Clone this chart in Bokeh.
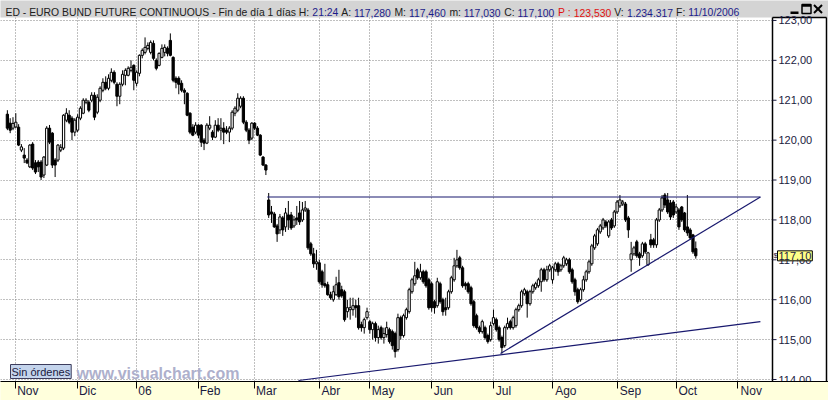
from bokeh.plotting import figure
from bokeh.models import FixedTicker, Label, ColumnDataSource, Grid
from bokeh.core.properties import value
from bokeh.embed import file_html
from bokeh.resources import INLINE

# ---- daily candles (trading-day index 0 = 27/10/2005 ... 245 = 11/10/2006) ----
opens = [120.65, 120.425, 120.30, 120.33, 120.325, 119.75, 119.625, 119.50, 119.33, 119.90,
         119.43, 119.45, 119.45, 119.125, 119.375, 120.30, 120.175, 119.50, 119.50, 119.75,
         119.80, 120.50, 120.625, 120.55, 120.20, 120.25, 120.55, 120.675, 120.95, 120.95,
         121.00, 121.125, 120.70, 121.00, 121.25, 121.45, 121.30, 121.50, 121.70, 121.40,
         121.10, 121.40, 121.625, 121.625, 121.75, 121.875, 121.425, 121.675, 122.125, 122.20,
         122.30, 122.20, 122.425, 122.00, 121.875, 122.075, 122.20, 122.30, 122.50, 122.075,
         121.55, 121.55, 121.425, 121.25, 121.175, 120.675, 120.325, 120.20, 120.375, 120.375,
         120.00, 119.925, 120.30, 120.20, 120.075, 120.375, 120.25, 120.30, 120.25, 120.20,
         120.30, 120.675, 120.75, 120.85, 121.05, 120.45, 120.25, 120.05, 120.425, 120.30,
         120.125, 119.575, 119.375, 118.50, 118.20, 118.15, 117.85, 117.75, 118.05, 117.825,
         118.125, 118.125, 117.85, 118.05, 118.175, 118.00, 118.25, 118.25, 117.40, 117.15,
         116.90, 116.925, 116.70, 116.40, 116.375, 116.125, 116.00, 116.125, 116.425, 116.25,
         116.20, 115.70, 115.75, 115.75, 115.85, 115.85, 115.375, 115.30, 115.55, 115.45,
         115.25, 115.40, 115.05, 115.30, 115.05, 115.125, 115.25, 115.20, 115.15, 114.75,
         115.55, 115.10, 115.55, 115.70, 116.20, 116.40, 116.75, 116.55, 116.70, 116.70,
         116.50, 116.40, 115.95, 115.85, 116.40, 116.00, 115.80, 115.80, 116.20, 116.50,
         116.85, 117.05, 116.80, 116.40, 116.40, 116.30, 115.95, 115.60, 115.30, 115.20,
         115.30, 115.10, 115.00, 115.40, 115.50, 115.30, 115.05, 114.85, 115.30, 115.45,
         115.30, 115.35, 115.75, 115.85, 116.15, 116.20, 115.90, 116.20, 116.30, 116.35,
         116.45, 116.75, 116.50, 116.75, 116.50, 116.75, 116.90, 116.75, 116.85, 116.90,
         117.00, 116.75, 116.50, 116.25, 116.00, 116.25, 116.50, 116.70, 116.90, 117.30,
         117.40, 117.70, 117.80, 117.95, 117.60, 118.00, 117.85, 118.20, 118.35, 118.40,
         118.40, 118.05, 117.00, 117.15, 117.45, 117.15, 117.10, 117.40, 116.875, 117.50,
         117.50, 117.375, 118.00, 118.25, 118.625, 118.50, 118.425, 118.45, 118.20, 118.25,
         118.325, 118.175, 117.825, 117.75, 117.625, 117.28]
highs = [120.75, 120.55, 120.575, 120.675, 120.40, 119.90, 119.80, 119.55, 119.90, 119.95,
         119.50, 119.50, 119.50, 119.60, 120.35, 120.38, 120.20, 119.55, 119.90, 119.90,
         120.65, 120.80, 120.75, 120.60, 120.55, 120.65, 120.85, 121.05, 121.05, 121.00,
         121.20, 121.20, 121.15, 121.35, 121.55, 121.60, 121.65, 121.80, 121.75, 121.45,
         121.45, 121.75, 121.80, 121.85, 122.00, 121.90, 121.75, 122.15, 122.30, 122.575,
         122.45, 122.50, 122.50, 122.05, 122.20, 122.40, 122.40, 122.35, 122.675, 122.10,
         121.60, 121.60, 121.50, 121.30, 121.20, 120.70, 120.40, 120.45, 120.40, 120.40,
         120.05, 120.425, 120.60, 120.25, 120.50, 120.55, 120.55, 120.45, 120.35, 120.35,
         120.75, 120.85, 121.175, 121.10, 121.10, 120.50, 120.30, 120.45, 120.45, 120.35,
         120.15, 119.60, 119.40, 118.675, 118.35, 118.20, 117.90, 118.15, 118.10, 118.30,
         118.475, 118.20, 118.10, 118.35, 118.475, 118.45, 118.475, 118.30, 117.45, 117.30,
         117.25, 117.00, 116.75, 116.90, 116.45, 116.20, 116.35, 116.575, 116.75, 116.35,
         116.25, 116.00, 116.05, 116.05, 116.00, 116.05, 115.45, 115.55, 115.80, 115.50,
         115.45, 115.45, 115.35, 115.35, 115.30, 115.45, 115.30, 115.25, 115.20, 115.65,
         115.60, 115.65, 115.80, 116.30, 116.55, 116.95, 116.80, 116.90, 116.75, 116.75,
         116.55, 116.45, 116.00, 116.55, 116.45, 116.05, 116.05, 116.25, 116.60, 117.05,
         117.25, 117.10, 116.85, 116.45, 116.45, 116.35, 116.00, 115.65, 115.35, 115.50,
         115.35, 115.15, 115.45, 115.75, 115.55, 115.35, 115.10, 115.35, 115.55, 115.50,
         115.60, 115.80, 115.90, 116.25, 116.30, 116.25, 116.25, 116.40, 116.45, 116.55,
         116.80, 116.80, 116.85, 116.90, 116.85, 116.95, 116.95, 116.90, 117.10, 117.05,
         117.05, 116.80, 116.55, 116.30, 116.30, 116.60, 116.75, 117.00, 117.40, 117.65,
         117.80, 117.90, 118.05, 118.00, 118.00, 118.05, 118.25, 118.50, 118.625, 118.50,
         118.45, 118.10, 117.45, 117.35, 117.50, 117.20, 117.45, 117.45, 117.20, 117.65,
         117.55, 118.05, 118.30, 118.625, 118.675, 118.675, 118.50, 118.50, 118.40, 118.30,
         118.35, 118.20, 118.625, 117.80, 117.65, 117.46]
lows = [120.25, 120.175, 120.25, 120.30, 119.85, 119.70, 119.425, 119.40, 119.30, 119.25,
        119.15, 119.20, 119.00, 119.05, 119.35, 119.90, 119.30, 119.075, 119.45, 119.70,
        119.75, 120.45, 120.40, 120.00, 120.10, 120.20, 120.50, 120.65, 120.90, 120.70,
        120.95, 120.50, 120.65, 120.95, 121.20, 121.25, 121.25, 121.45, 121.40, 120.85,
        120.90, 121.35, 121.375, 121.60, 121.70, 121.25, 121.35, 121.60, 122.05, 122.15,
        122.25, 122.15, 122.00, 121.75, 121.85, 122.05, 122.10, 122.10, 122.10, 121.45,
        121.30, 121.15, 121.20, 120.90, 120.60, 120.15, 120.10, 120.15, 120.05, 119.83,
        119.75, 119.90, 120.25, 120.00, 120.05, 120.20, 120.00, 119.90, 120.15, 119.95,
        120.25, 120.60, 120.70, 120.80, 120.40, 120.20, 119.90, 120.00, 120.25, 120.10,
        119.60, 119.35, 119.125, 118.05, 117.925, 117.80, 117.45, 117.65, 117.60, 117.70,
        117.75, 117.75, 117.80, 117.875, 117.875, 117.95, 118.20, 117.25, 117.10, 116.80,
        116.75, 116.40, 116.30, 116.30, 116.10, 116.00, 115.95, 116.10, 116.00, 116.05,
        115.45, 115.55, 115.50, 115.60, 115.55, 115.25, 115.20, 115.15, 115.50, 115.15,
        115.00, 114.95, 114.90, 115.00, 114.90, 115.05, 114.90, 114.75, 114.55, 114.70,
        115.00, 115.05, 115.50, 115.65, 116.15, 116.35, 116.50, 116.50, 116.40, 116.30,
        115.75, 115.70, 115.65, 115.80, 115.90, 115.60, 115.60, 115.75, 116.15, 116.45,
        116.80, 116.75, 116.30, 116.25, 116.15, 115.85, 115.30, 115.25, 115.15, 115.15,
        115.00, 114.90, 114.95, 115.35, 115.20, 114.95, 114.65, 114.80, 115.25, 115.25,
        115.25, 115.30, 115.70, 115.80, 116.10, 115.55, 115.85, 116.15, 116.25, 116.30,
        116.20, 116.45, 116.45, 116.70, 116.40, 116.70, 116.60, 116.70, 116.80, 116.85,
        116.65, 116.40, 116.10, 115.90, 115.95, 116.20, 116.45, 116.65, 116.85, 117.25,
        117.35, 117.65, 117.75, 117.80, 117.55, 117.75, 117.80, 118.15, 118.30, 118.35,
        117.95, 117.55, 116.70, 117.10, 117.05, 116.85, 117.05, 117.15, 116.85, 117.30,
        117.30, 117.30, 117.95, 118.20, 118.30, 118.15, 118.00, 118.05, 118.15, 117.75,
        117.95, 117.70, 117.60, 117.50, 117.15, 117.03]
closes = [120.30, 120.25, 120.42, 120.45, 119.875, 119.83, 119.55, 119.43, 119.875, 119.30,
          119.20, 119.33, 119.075, 119.575, 120.30, 119.95, 119.375, 119.375, 119.875, 119.82,
          120.625, 120.675, 120.45, 120.20, 120.50, 120.575, 120.80, 121.00, 121.00, 120.75,
          121.125, 120.575, 121.075, 121.30, 121.45, 121.30, 121.55, 121.70, 121.45, 121.10,
          121.40, 121.65, 121.75, 121.80, 121.825, 121.50, 121.70, 122.125, 122.25, 122.325,
          122.375, 122.45, 122.05, 121.80, 122.175, 122.30, 122.325, 122.175, 122.125, 121.50,
          121.45, 121.40, 121.25, 121.20, 120.625, 120.20, 120.125, 120.375, 120.125, 119.95,
          119.925, 120.375, 120.375, 120.075, 120.375, 120.25, 120.30, 120.20, 120.20, 120.30,
          120.70, 120.80, 121.05, 121.05, 120.45, 120.25, 120.00, 120.425, 120.30, 120.125,
          119.625, 119.375, 119.25, 118.125, 118.15, 117.825, 117.65, 118.075, 117.75, 118.175,
          118.00, 117.80, 118.00, 118.00, 117.95, 118.25, 118.30, 117.30, 117.15, 116.90,
          116.95, 116.45, 116.375, 116.35, 116.125, 116.05, 116.20, 116.375, 116.075, 116.10,
          115.50, 115.80, 115.80, 115.85, 115.80, 115.30, 115.30, 115.50, 115.70, 115.25,
          115.40, 115.05, 115.25, 115.05, 115.15, 115.30, 114.95, 114.85, 114.70, 115.55,
          115.10, 115.60, 115.75, 116.25, 116.50, 116.60, 116.55, 116.70, 116.45, 116.35,
          115.80, 115.80, 115.80, 116.45, 115.95, 115.70, 115.75, 116.20, 116.55, 116.85,
          117.00, 116.80, 116.35, 116.35, 116.20, 115.90, 115.35, 115.30, 115.20, 115.45,
          115.05, 114.95, 115.35, 115.55, 115.25, 115.00, 114.80, 115.30, 115.40, 115.30,
          115.55, 115.75, 115.85, 116.20, 116.25, 115.90, 116.20, 116.35, 116.40, 116.50,
          116.75, 116.50, 116.75, 116.85, 116.80, 116.90, 116.70, 116.85, 117.05, 117.00,
          116.70, 116.45, 116.20, 115.95, 116.25, 116.50, 116.70, 116.95, 117.35, 117.60,
          117.75, 117.85, 118.00, 117.85, 117.95, 117.80, 118.20, 118.45, 118.50, 118.45,
          118.00, 117.75, 117.15, 117.30, 117.10, 117.05, 117.40, 117.20, 117.175, 117.375,
          117.375, 118.00, 118.25, 118.55, 118.375, 118.20, 118.075, 118.125, 118.325, 117.825,
          118.00, 117.75, 117.675, 117.55, 117.20, 117.10]

# ---- axes ----
month_labels = ["Nov", "Dic", "06", "Feb", "Mar", "Abr", "May", "Jun", "Jul", "Ago", "Sep", "Oct", "Nov"]
month_index = [3, 25, 46, 68, 88, 111, 129, 151, 173, 194, 217, 238, 260]
price_ticks = [114, 115, 116, 117, 118, 119, 120, 121, 122, 123]
price_tick_labels = ["114,00", "115,00", "116,00", "117,00", "118,00", "119,00",
                     "120,00", "121,00", "122,00", "123,00"]

# ---- drawn trend lines (day index, price) ----
trend_x0 = [92.5, 175.5, 103.6]
trend_y0 = [118.575, 114.65, 113.975]
trend_x1 = [268.0, 268.0, 268.0]
trend_y1 = [118.575, 118.575, 115.45]

# ---- header info ----
last_time = "21:24"
prev_close = "123,530"
volume = "1.234.317"
last_date = "11/10/2006"


def fmt3(v):
    return f"{v:.3f}".replace(".", ",")


# ---- layout constants ----
W, H = 828, 400
BOTTOM = 18                 # date band
TITLE_H = 17                # header bar
CHART_W = 772               # chart area width (px), price scale to its right
FH = H - BOTTOM             # frame height
CHART_H = FH - TITLE_H
X_MIN, X_AXIS = -2.445, 272.3
Y_LO, Y_TOP = 113.95, 123.075
PPX = CHART_W / (X_AXIS - X_MIN)
PPY = CHART_H / (Y_TOP - Y_LO)
X_MAX = X_MIN + W / PPX
Y_MAX = Y_TOP + TITLE_H / PPY

FONT = "Liberation Sans"
BAR_GRAY = "#d4d4d4"
BAND = "#ffffdc"
INK = "#1a1a40"
NAVY = "#18186e"

ARIAL = {' ': 278, '\u00a0': 278, '-': 333, ':': 278, ',': 278, '.': 278, '/': 278,
         'A': 667, 'B': 667, 'C': 722, 'D': 722, 'E': 667, 'F': 611, 'H': 722, 'I': 278,
         'J': 500, 'M': 833, 'N': 722, 'O': 778, 'P': 667, 'R': 722, 'S': 667, 'T': 611,
         'U': 722, 'V': 667, 'a': 556, 'b': 556, 'c': 500, 'd': 556, 'e': 556, 'g': 556,
         'i': 222, 'í': 278, 'l': 222, 'm': 833, 'n': 556, 'o': 556, 'p': 556, 'r': 333,
         's': 500, 't': 278, 'u': 556, 'v': 500, 'y': 500}


def tw(s, size):
    return sum(ARIAL.get(ch, 556) for ch in s) * size / 1000.0


def px_to_x(px):
    return X_MIN + px / PPX


def py_to_y(py):
    return Y_MAX - py / PPY


p = figure(width=W, height=H, x_range=(X_MIN, X_MAX), y_range=(Y_LO, Y_MAX),
           output_backend="svg", toolbar_location=None, title=None,
           y_axis_location=None, min_border_left=0, min_border_right=0,
           min_border_top=0, min_border_bottom=BOTTOM,
           background_fill_color="white", border_fill_color=BAND)
p.outline_line_color = None
for g in p.grid:
    g.visible = False

# date axis: ticks at month starts, labels set just right of each tick
xa = p.xaxis[0]
xa.ticker = FixedTicker(ticks=month_index)
LAB_PX = 12
NB = 278 * LAB_PX / 1000.0  # width of a no-break space
overrides = {}
for t, lab in zip(month_index, month_labels):
    w = tw(lab, LAB_PX)
    n = max(0, round((w + 4) / NB))
    tick_px = (t - X_MIN) * PPX
    if tick_px - (n * NB + w) / 2 < 0:      # label would be pushed inside the canvas
        n = max(0, round((tick_px + 2) / NB))
    overrides[t] = "\u00a0" * n + lab
xa.major_label_overrides = overrides
xa.axis_line_color = "black"
xa.major_tick_in = 0
xa.major_tick_out = 7
xa.major_tick_line_color = "black"
xa.minor_tick_line_color = None
xa.major_label_standoff = -5
xa.major_label_text_font = FONT
xa.major_label_text_font_size = f"{LAB_PX}px"
xa.major_label_text_color = INK
if hasattr(xa, "background_fill_color"):
    xa.background_fill_color = BAND

p.add_layout(Grid(dimension=0, ticker=FixedTicker(ticks=month_index),
                  grid_line_color="#808080", grid_line_dash="1 2", grid_line_width=1))
p.add_layout(Grid(dimension=1, ticker=FixedTicker(ticks=price_ticks),
                  grid_line_color="#808080", grid_line_dash="1 2", grid_line_width=1))

# price-scale panel and header bar (cover the grid there)
p.quad(left=[X_AXIS], right=[X_MAX + 1], bottom=[Y_LO - 1], top=[Y_TOP],
       fill_color="white", line_color=None)
p.quad(left=[X_MIN - 1], right=[X_MAX + 1], bottom=[Y_TOP], top=[Y_MAX + 1],
       fill_color=BAR_GRAY, line_color=None)

# candles
idx = list(range(len(closes)))
src = ColumnDataSource(dict(
    x=idx, o=opens, h=highs, l=lows, c=closes,
    top=[max(o, c) for o, c in zip(opens, closes)],
    bot=[min(o, c) for o, c in zip(opens, closes)],
    fill=["white" if c >= o else "black" for o, c in zip(opens, closes)],
))
p.segment(x0="x", y0="l", x1="x", y1="h", source=src, line_color="black", line_width=1)
p.vbar(x="x", width=0.8, top="top", bottom="bot", source=src,
       fill_color="fill", line_color="black", line_width=1)

# trend lines
p.segment(x0=trend_x0, y0=trend_y0, x1=trend_x1, y1=trend_y1, line_color=NAVY, line_width=1.2)

# price scale: axis line, frame, ticks, labels
x_edge = X_MAX - 2.0 / PPX
p.segment(x0=[X_AXIS, x_edge, X_AXIS], y0=[Y_LO - 1, Y_LO - 1, Y_TOP],
          x1=[X_AXIS, x_edge, x_edge], y1=[Y_TOP, Y_TOP, Y_TOP],
          line_color="black", line_width=1.5)
p.segment(x0=[X_AXIS] * len(price_ticks), y0=price_ticks,
          x1=[X_AXIS + 4 / PPX] * len(price_ticks), y1=price_ticks,
          line_color=INK, line_width=1)
p.text(x=[X_AXIS] * len(price_ticks), y=price_ticks, text=price_tick_labels, x_offset=6,
       text_font=value(FONT), text_font_size="11px", text_color=INK,
       text_baseline="middle", text_align="left")

# last price marker
p.add_layout(Label(x=X_AXIS, y=closes[-1], x_offset=1, text="$",
                   text_font=FONT, text_font_size="8px", text_color=INK, text_baseline="middle"))
p.add_layout(Label(x=X_AXIS, y=closes[-1], x_offset=5,
                   text=f"{closes[-1]:.2f}".replace(".", ","), text_font=FONT,
                   text_font_size="11px", text_color=INK, text_baseline="middle",
                   background_fill_color="#ffff88", border_line_color="black",
                   border_line_width=1, padding=1))

# header text
TS = 10.4
BLUE = "#1c1c8a"
BLACK = "#202020"
RED = "#e01010"
segments = [
    ("ED - EURO BUND FUTURE CONTINUOUS - Fin de día 1 días H: ", BLACK),
    (last_time, BLUE), (" A: ", BLACK), (fmt3(opens[-1]), BLUE),
    (" M: ", BLACK), (fmt3(highs[-1]), BLUE), (" m: ", BLACK), (fmt3(lows[-1]), BLUE),
    (" C: ", BLACK), (fmt3(closes[-1]), BLUE), (" P : ", RED), (prev_close, RED),
    (" V: ", BLACK), (volume, BLUE), (" F: ", BLACK), (last_date, BLUE),
]
cx = 5.0
ty = FH - 13
for text, col in segments:
    lead = len(text) - len(text.lstrip(" "))
    p.add_layout(Label(x=cx + tw(text[:lead], TS), y=ty, x_units="screen", y_units="screen",
                       text=text.strip(), text_font=FONT, text_font_size=f"{TS}px",
                       text_color=col, text_baseline="alphabetic", text_align="left"))
    cx += tw(text, TS)

# window buttons drawn as small shapes: minimise bar, maximise box, close cross
p.quad(left=[px_to_x(790)], right=[px_to_x(798)], bottom=[py_to_y(13.5)], top=[py_to_y(11)],
       fill_color="black", line_color=None)
p.quad(left=[px_to_x(801.5)], right=[px_to_x(810.5)], bottom=[py_to_y(13)], top=[py_to_y(4)],
       fill_color=None, line_color="black", line_width=1.5)
p.segment(x0=[px_to_x(801.5)], y0=[py_to_y(5)], x1=[px_to_x(810.5)], y1=[py_to_y(5)],
          line_color="black", line_width=2.5)
p.segment(x0=[px_to_x(813.5), px_to_x(813.5)], y0=[py_to_y(4.5), py_to_y(12.5)],
          x1=[px_to_x(821.5), px_to_x(821.5)], y1=[py_to_y(12.5), py_to_y(4.5)],
          line_color="black", line_width=2)

# watermark and order status
p.add_layout(Label(x=76, y=8, x_units="screen", y_units="screen", text="www.visualchart.com",
                   text_font=FONT, text_font_size="16px", text_font_style="bold",
                   text_color="#aeb0cc", text_baseline="alphabetic"))
p.add_layout(Label(x=10, y=10, x_units="screen", y_units="screen", text="Sin órdenes",
                   text_font=FONT, text_font_size="11px", text_color=INK,
                   text_baseline="alphabetic", background_fill_color="#c4d4ec",
                   border_line_color="#3c3c5c", border_line_width=1, padding=1))

open("out.html", "w").write(file_html(p, INLINE))
